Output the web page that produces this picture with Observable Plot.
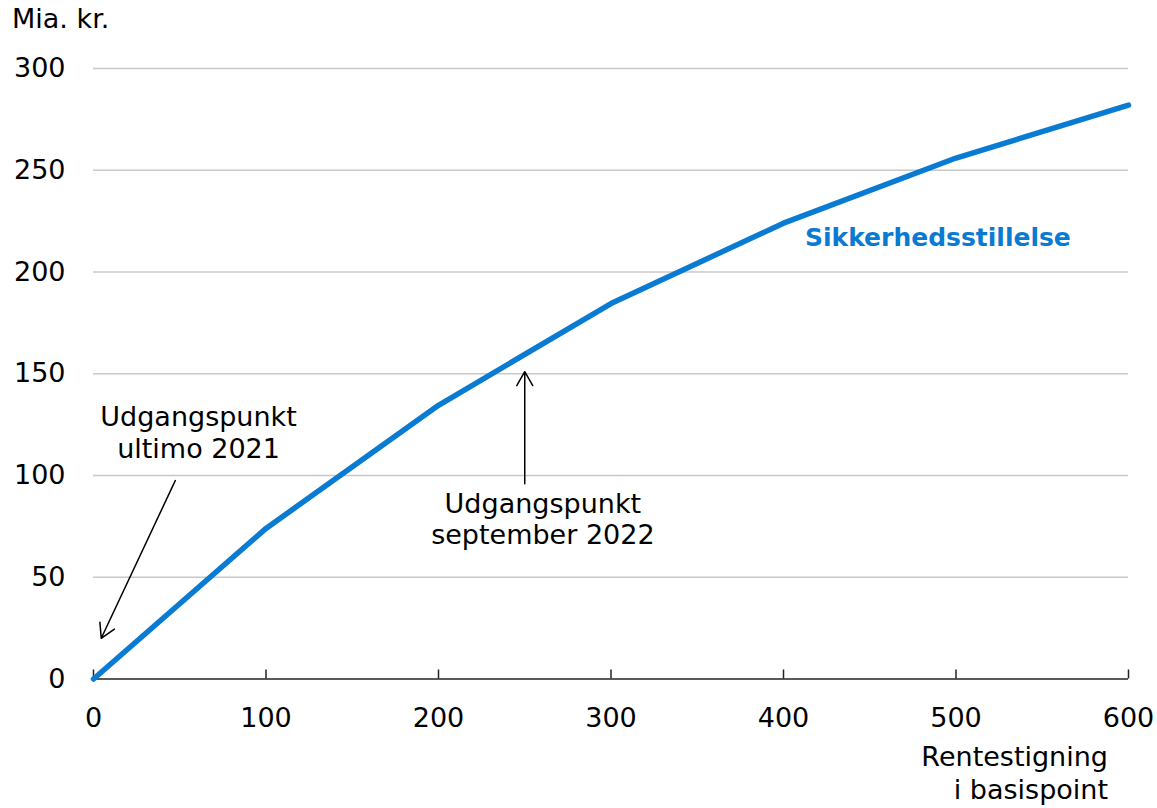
<!DOCTYPE html>
<html>
<head>
<meta charset="utf-8">
<script src="https://cdn.jsdelivr.net/npm/d3@7"></script>
<script src="https://cdn.jsdelivr.net/npm/@observablehq/plot@0.6"></script>
<style>
  html, body { margin: 0; padding: 0; background: #fff; }
  #wrap { position: relative; width: 1157px; height: 808px; font-family: "DejaVu Sans", sans-serif; color: #000; }
  #title { position: absolute; left: 12px; top: 3px; font-size: 27px; line-height: 32px; }
  #chart { position: absolute; left: 0; top: 45px; }
  #xlabel { position: absolute; right: 49px; top: 740px; font-size: 27px; line-height: 33px; text-align: right; }
</style>
</head>
<body>
<div id="wrap">
  <div id="title">Mia. kr.</div>
  <div id="chart"></div>
  <div id="xlabel">Rentestigning<br>i basispoint</div>
</div>
<script>
// Data
const rateIncrease = [0, 100, 200, 300, 400, 500, 600];       // basis points
const collateral   = [0, 74, 134.5, 184.5, 224, 256, 282];    // Mia. kr.
const xTicks = [0, 100, 200, 300, 400, 500, 600];
const yTicks = [0, 50, 100, 150, 200, 250, 300];
const gridTicks = [50, 100, 150, 200, 250, 300];

const seriesLabel = "Sikkerhedsstillelse";
const annotationLabels = ["Udgangspunkt\nultimo 2021", "Udgangspunkt\nseptember 2022"];
const annotationX = [60.9, 260.5];
const annotationY = [108.5, 66.5];
const arrowFromX = [47.4, 250];
const arrowFromY = [97.5, 96];
const arrowToX = [4.5, 250];
const arrowToY = [20, 151];

const blue = "#0a7bd3";
const rows = rateIncrease.map((x, i) => ({x, y: collateral[i]}));
const annotations = annotationLabels.map((t, i) => ({
  text: t, x: annotationX[i], y: annotationY[i],
  x1: arrowFromX[i], y1: arrowFromY[i], x2: arrowToX[i], y2: arrowToY[i]
}));

const plot = Plot.plot({
  width: 1157,
  height: 763,
  marginLeft: 93,
  marginRight: 29,
  marginTop: 23,
  marginBottom: 129.5,
  style: { fontFamily: "DejaVu Sans, sans-serif", fontSize: "27px", color: "#000", background: "#fff" },
  x: { domain: [0, 600] },
  y: { domain: [0, 300] },
  marks: [
    Plot.gridY(gridTicks, { stroke: "#c8c8c8", strokeOpacity: 1, strokeWidth: 1.5 }),
    Plot.axisY(yTicks, { tickSize: 0, tickPadding: 28, label: null, fontSize: 27 }),
    Plot.axisX(xTicks, { tickSize: 9, dy: -9, fill: "none", stroke: "#222", strokeWidth: 1.5, label: null }),
    Plot.axisX(xTicks, { tickSize: 0, tickPadding: 29, label: null, fontSize: 27 }),
    Plot.ruleY([0], { stroke: "#222", strokeWidth: 1.5 }),
    Plot.line(rows, { x: "x", y: "y", stroke: blue, strokeWidth: 5.5, strokeLinejoin: "round" }),
    Plot.arrow(annotations, { x1: "x1", y1: "y1", x2: "x2", y2: "y2", stroke: "#000", strokeWidth: 1.5, headLength: 16, headAngle: 60 }),
    Plot.text(annotations.slice(0, 1), { x: "x", y: "y", text: "text", lineAnchor: "bottom", lineHeight: 1.2, fontSize: 27, fill: "#000" }),
    Plot.text(annotations.slice(1), { x: "x", y: "y", text: "text", lineAnchor: "bottom", lineHeight: 1.12, fontSize: 27, fill: "#000" }),
    Plot.text([seriesLabel], { x: 489.5, y: 212.8, text: d => d, lineAnchor: "bottom", fontSize: 25, fontWeight: "bold", fill: blue })
  ]
});
document.getElementById("chart").appendChild(plot);
</script>
</body>
</html>
